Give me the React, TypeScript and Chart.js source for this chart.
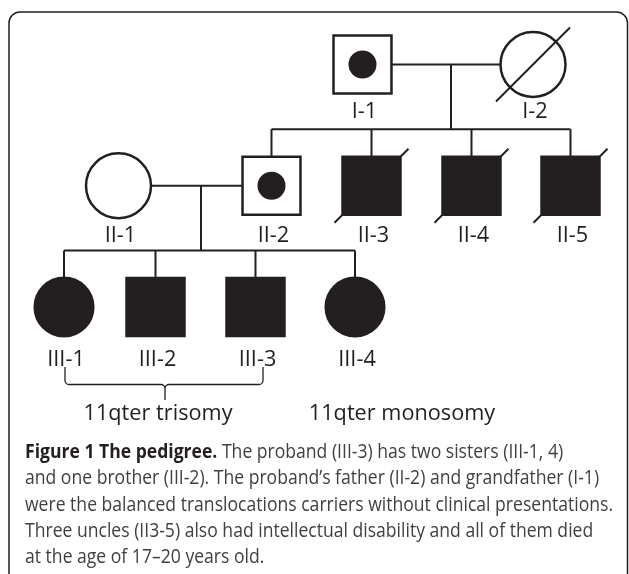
import React, { useEffect, useRef } from 'react';
import { Chart, registerables } from 'chart.js';
Chart.register(...registerables);

// ---- pedigree data ----
const ids = ['I-1', 'I-2', 'II-1', 'II-2', 'II-3', 'II-4', 'II-5', 'III-1', 'III-2', 'III-3', 'III-4'];
const posX = [3.625, 5.33, 1.185, 2.715, 3.715, 4.715, 5.705, 0.64, 1.555, 2.555, 3.55];
const generation = [1, 1, 2, 2, 2, 2, 2, 3, 3, 3, 3];
const sex = ['M', 'F', 'F', 'M', 'M', 'M', 'M', 'F', 'M', 'M', 'F'];
const affected = [false, false, false, false, true, true, true, true, true, true, true];
const carrier = [true, false, false, true, false, false, false, false, false, false, false];
const deceased = [false, true, false, false, true, true, true, false, false, false, false];

const familyFather = ['I-1', 'II-2'];
const familyMother = ['I-2', 'II-1'];
const familyDescentX = [4.51, 2.01];
const familyChildren = [
  ['II-2', 'II-3', 'II-4', 'II-5'],
  ['III-1', 'III-2', 'III-3', 'III-4'],
];

const groupLabels = ['11qter trisomy', '11qter monosomy'];
const groupLabelX = [1.58, 4.02];
const groupLabelY = [3.932, 3.932];
const bracketX = [0.65, 2.63];
const bracketTipX = 1.65;
const bracketY = [3.495, 3.639, 3.767];

const captionBold = 'Figure 1 The pedigree.';
const captionLines = [
  ' The proband (III-3) has two sisters (III-1, 4)',
  'and one brother (III-2). The proband\u2019s father (II-2) and grandfather (I-1)',
  'were the balanced translocations carriers without clinical presentations.',
  'Three uncles (II3-5) also had intellectual disability and all of them died',
  'at the age of 17\u201320 years old.',
];

// ---- styles ----
const INK = '#231f20';
const CAPTION_INK = '#3f3f3f';
const W = 629;
const H = 574;
const SIB_OFFSET = 0.465;
const LABEL_DROP = [53, 56.5, 59];
const SLASH = 37;

const pedigreePlugin = {
  id: 'pedigreeDecor',
  beforeDatasetsDraw(chart: any) {
    const ctx = chart.ctx;
    ctx.save();
    ctx.strokeStyle = INK;
    ctx.lineWidth = 1.5;
    ctx.beginPath();
    (ctx as any).roundRect(9, 12, 618.5, 600, 11);
    ctx.stroke();
    ctx.restore();
  },
  afterDatasetsDraw(chart: any) {
    const { ctx } = chart;
    const xs = chart.scales.x;
    const ys = chart.scales.y;
    ctx.save();
    // deceased slashes
    ctx.strokeStyle = INK;
    ctx.lineWidth = 2;
    ids.forEach((_, i) => {
      if (!deceased[i]) return;
      const cx = xs.getPixelForValue(posX[i]);
      const cy = ys.getPixelForValue(generation[i]);
      ctx.beginPath();
      ctx.moveTo(cx - SLASH, cy + SLASH);
      ctx.lineTo(cx + SLASH, cy - SLASH);
      ctx.stroke();
    });

    // labels
    ctx.fillStyle = INK;
    ctx.font = '21px "Open Sans"';
    const lsx = 149 / ctx.measureText(groupLabels[0]).width;
    const drawScaled = (t: string, x: number, y: number, sx: number, align: CanvasTextAlign) => {
      ctx.save();
      ctx.translate(x, y);
      ctx.scale(sx, 1);
      ctx.textAlign = align;
      ctx.textBaseline = 'alphabetic';
      ctx.fillText(t, 0, 0);
      ctx.restore();
    };
    ids.forEach((id, i) => {
      const cx = xs.getPixelForValue(posX[i]);
      const cy = ys.getPixelForValue(generation[i]);
      drawScaled(id, cx + 2, cy + LABEL_DROP[generation[i] - 1], lsx, 'center');
    });
    groupLabels.forEach((t, k) => {
      drawScaled(t, xs.getPixelForValue(groupLabelX[k]), ys.getPixelForValue(groupLabelY[k]), lsx, 'center');
    });

    // bracket
    const bx0 = xs.getPixelForValue(bracketX[0]);
    const bx1 = xs.getPixelForValue(bracketX[1]);
    const btx = xs.getPixelForValue(bracketTipX);
    const by0 = ys.getPixelForValue(bracketY[0]);
    const by1 = ys.getPixelForValue(bracketY[1]);
    const by2 = ys.getPixelForValue(bracketY[2]);
    ctx.lineWidth = 1.3;
    ctx.beginPath();
    ctx.moveTo(bx0, by0);
    ctx.arcTo(bx0, by1, bx0 + 6, by1, 4);
    ctx.lineTo(btx - 4, by1);
    ctx.arcTo(btx, by1, btx, by2, 4);
    ctx.lineTo(btx, by2);
    ctx.moveTo(btx, by1 + 4);
    ctx.arcTo(btx, by1, btx + 4, by1, 4);
    ctx.lineTo(bx1 - 4, by1);
    ctx.arcTo(bx1, by1, bx1, by0, 4);
    ctx.lineTo(bx1, by0);
    ctx.stroke();

    // caption
    ctx.font = '19.5px "Open Sans"';
    const csx = 588 / ctx.measureText(captionLines[2]).width;
    const left = 25;
    const base0 = 458;
    const lead = 26.25;
    ctx.font = 'bold 19.5px "Open Sans"';
    ctx.fillStyle = INK;
    const bw = ctx.measureText(captionBold).width * csx;
    drawScaled(captionBold, left, base0, csx, 'left');
    ctx.font = '19.5px "Open Sans"';
    ctx.fillStyle = CAPTION_INK;
    captionLines.forEach((line, k) => {
      drawScaled(line, k === 0 ? left + bw : left, base0 + k * lead, csx, 'left');
    });
    ctx.restore();
  },
};

export default function App() {
  const ref = useRef<HTMLCanvasElement>(null);
  useEffect(() => {
    const canvas = ref.current;
    if (!canvas) return;
    const idx = (id: string) => ids.indexOf(id);

    const segments: { x: number; y: number }[][] = [];
    familyFather.forEach((f, k) => {
      const fi = idx(f);
      const mi = idx(familyMother[k]);
      const pg = generation[fi];
      const kids = familyChildren[k].map(idx);
      const sibY = generation[kids[0]] - SIB_OFFSET;
      const dx = familyDescentX[k];
      segments.push([{ x: posX[fi], y: pg }, { x: posX[mi], y: pg }]);
      segments.push([{ x: dx, y: pg }, { x: dx, y: sibY }]);
      const kx = kids.map((c) => posX[c]);
      segments.push([
        { x: Math.min(...kx, dx), y: sibY },
        { x: Math.max(...kx, dx), y: sibY },
      ]);
      kids.forEach((c) => segments.push([{ x: posX[c], y: sibY }, { x: posX[c], y: generation[c] }]));
    });

    const lineSets = segments.map((seg) => ({
      type: 'scatter' as const,
      data: seg,
      showLine: true,
      borderColor: INK,
      borderWidth: 2,
      pointRadius: 0,
      pointHoverRadius: 0,
      order: 10,
    }));

    const shapeSet = {
      type: 'scatter' as const,
      data: ids.map((_, i) => ({ x: posX[i], y: generation[i] })),
      pointStyle: sex.map((s) => (s === 'M' ? 'rect' : 'circle')),
      pointRadius: sex.map((s, i) => (s === 'M' ? 41 : generation[i] < 3 ? 32.5 : 29.3)),
      pointHoverRadius: sex.map((s, i) => (s === 'M' ? 41 : generation[i] < 3 ? 32.5 : 29.3)),
      backgroundColor: affected.map((a) => (a ? INK : '#ffffff')),
      hoverBackgroundColor: affected.map((a) => (a ? INK : '#ffffff')),
      borderColor: INK,
      hoverBorderColor: INK,
      borderWidth: 2.5,
      hoverBorderWidth: 2.5,
      order: 5,
    };

    const carrierIdx = ids.map((_, i) => i).filter((i) => carrier[i]);
    const carrierSet = {
      type: 'scatter' as const,
      data: carrierIdx.map((i) => ({ x: posX[i], y: generation[i] })),
      pointStyle: 'circle',
      pointRadius: 14,
      pointHoverRadius: 14,
      backgroundColor: INK,
      borderWidth: 0,
      order: 1,
    };

    const chart = new Chart(canvas, {
      type: 'scatter',
      data: { datasets: [...lineSets, shapeSet, carrierSet] as any },
      options: {
        animation: false,
        responsive: false,
        events: [],
        layout: { padding: 0, autoPadding: false },
        plugins: { legend: { display: false }, tooltip: { enabled: false } },
        scales: {
          x: { type: 'linear', display: false, min: 0, max: 6.29 },
          y: { type: 'linear', display: false, min: 0.46804, max: 5.20206, reverse: true },
        },
      },
      plugins: [pedigreePlugin],
    });
    return () => chart.destroy();
  }, []);

  return (
    <div style={{ position: 'absolute', left: 0, top: 0, width: W, height: H, background: '#fff' }}>
      <canvas ref={ref} width={W} height={H} style={{ display: 'block', width: W, height: H }} />
    </div>
  );
}
